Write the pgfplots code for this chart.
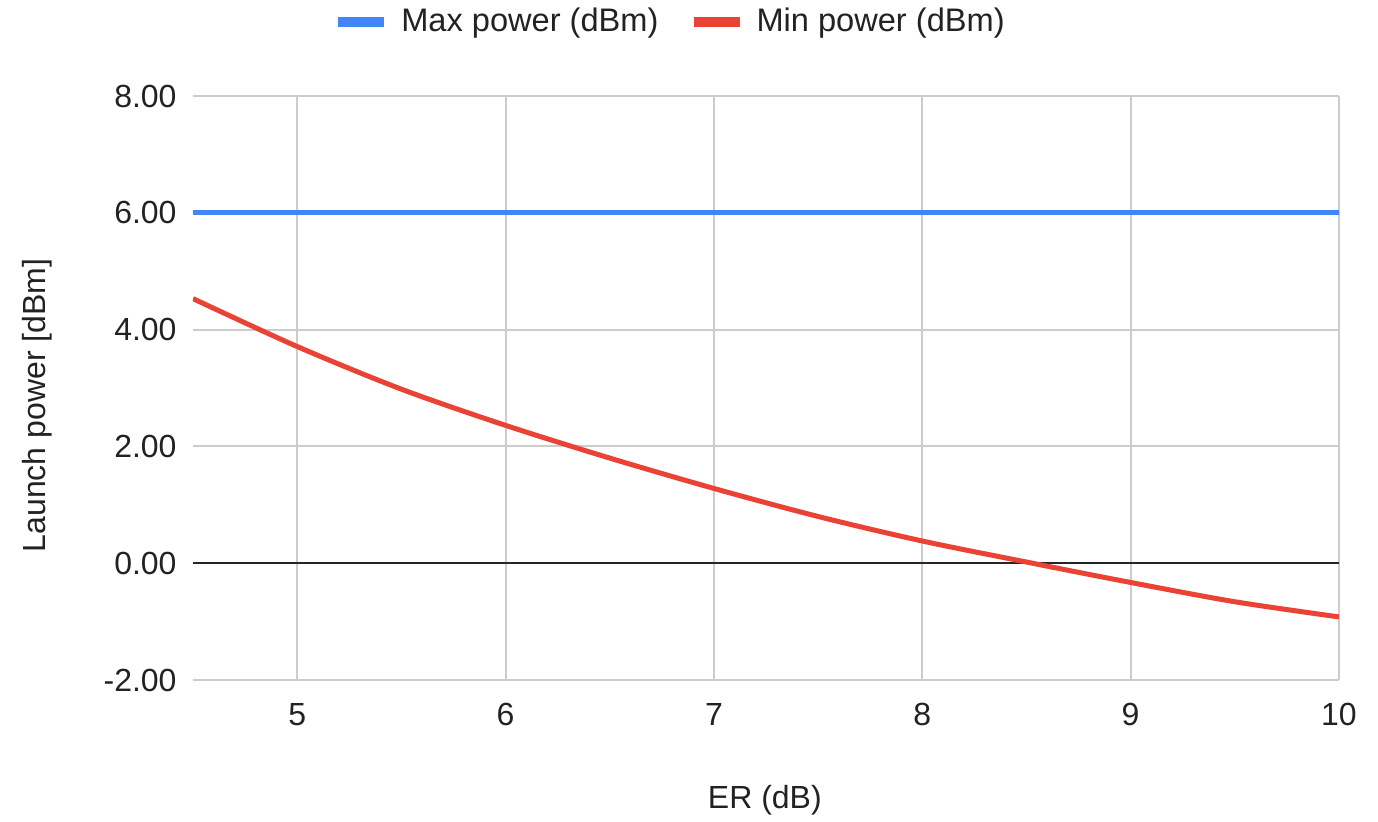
\documentclass[border=0pt]{standalone}
\usepackage{fontspec}
\setmainfont{Liberation Sans}
\usepackage{pgfplots}
\pgfplotsset{compat=1.18}
\definecolor{gblue}{HTML}{4285F4}
\definecolor{gred}{HTML}{EA4335}
\definecolor{ggrid}{HTML}{CCCCCC}
\definecolor{gtext}{HTML}{222222}
\begin{document}
\fontsize{16}{19}\selectfont
\begin{tikzpicture}
\useasboundingbox (-96.5pt,-70.5pt) rectangle (592.5pt,340pt);
\begin{axis}[
  at={(0pt,0pt)}, anchor=south west,
  scale only axis, width=573pt, height=292pt,
  xmin=4.5, xmax=10, ymin=-2, ymax=8,
  xtick={5,6,7,8,9,10}, ytick={-2,0,2,4,6,8},
  axis line style={draw=none},
  major tick length=0pt,
  grid=major,
  major grid style={ggrid, line width=1pt},
  extra y ticks={0}, extra y tick labels={},
  extra y tick style={major grid style={black!85, line width=1pt}},
  /pgf/number format/assume math mode=true,
  yticklabel={\pgfmathprintnumber[fixed,fixed zerofill,precision=2]{\tick}},
  xticklabel={\pgfmathprintnumber[fixed]{\tick}},
  ticklabel style={font=\fontsize{16}{19}\selectfont, text=gtext},
  xticklabel style={yshift=-6pt},
  yticklabel style={xshift=-2.7pt},
  xlabel={ER (dB)}, ylabel={Launch power [dBm]},
  label style={font=\fontsize{16}{19}\selectfont, text=gtext},
  xlabel style={at={(axis description cs:0.499,-0.205)}, anchor=center},
  ylabel style={at={(axis description cs:-0.136,0.47)}, anchor=center},
  legend columns=2,
  legend style={at={(axis description cs:0.4206,1.1267)}, anchor=center,
    draw=none, fill=none, font=\fontsize{16.3}{19}\selectfont, text=gtext,
    /tikz/every even column/.style={column sep=9pt},
    nodes={inner xsep=6pt}},
  legend image code/.code={\draw[#1,line width=5pt,line cap=butt] (0pt,0pt) -- (23pt,0pt);},
]
\addplot[gblue, line width=2.5pt] coordinates {(4.5,6) (5,6) (5.5,6) (6,6) (6.5,6) (7,6) (7.5,6) (8,6) (8.5,6) (9,6) (9.5,6) (10,6)};
\addlegendentry{Max power (dBm)}
\addplot[gred, line width=2.5pt, smooth] coordinates {
(4.5,4.53) (5,3.71) (5.5,2.98) (6,2.36) (6.5,1.80) (7,1.28) (7.5,0.80) (8,0.38) (8.5,0.02) (9,-0.33) (9.5,-0.66) (10,-0.92)};
\addlegendentry{Min power (dBm)}
\end{axis}
\end{tikzpicture}
\end{document}
